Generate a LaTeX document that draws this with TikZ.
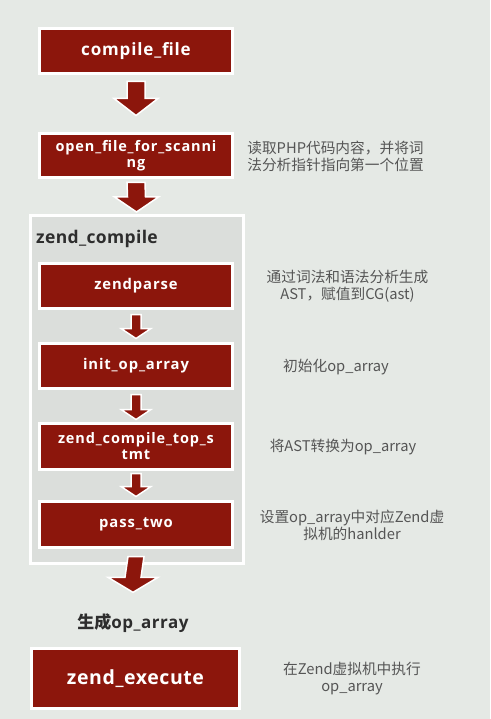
\documentclass[tikz,border=0pt]{standalone}
\usepackage{fontspec}
\setmainfont{Open Sans}
\newfontfamily\cjk{Noto Sans CJK SC}
\usetikzlibrary{calc}
\definecolor{bg}{RGB}{229,233,229}
\definecolor{boxred}{RGB}{140,22,12}
\definecolor{panelgray}{RGB}{219,222,219}
\definecolor{notegray}{RGB}{85,85,85}
\definecolor{darktext}{RGB}{45,45,45}
\newcommand\boxfont[3]{\bfseries\fontsize{#1}{#2}\selectfont\addfontfeature{LetterSpace=#3}}
\tikzset{
  stepbox/.style={draw=white, line width=3pt, fill=boxred, text=white,
    font=\boxfont{14.8}{16}{6}, minimum width=193pt,
    minimum height=45pt, inner sep=0pt, align=center},
  panelbox/.style={draw=white, line width=3pt, fill=panelgray, inner sep=0pt},
  notetext/.style={text=notegray, font=\cjk\fontsize{14.7}{17}\selectfont, align=center, inner sep=0pt},
  headtext/.style={text=darktext, font=\boxfont{17.5}{20}{2}, inner sep=0pt},
  blockarrowstyle/.style={fill=boxred, draw=white, line width=1.5pt, line join=miter},
}
% #1 start, #2 tip, #3 shaft half width, #4 head half width, #5 head length
\newcommand\blockarrow[5]{%
  \path[blockarrowstyle] ($(#1)+(-#3,0)$) -- ($(#2)+(-#3,#5)$) -- ($(#2)+(-#4,#5)$)
    -- (#2) -- ($(#2)+(#4,#5)$) -- ($(#2)+(#3,#5)$) -- ($(#1)+(#3,0)$) -- cycle;}
\begin{document}
\begin{tikzpicture}[x=1pt,y=1pt]
\fill[bg] (0,0) rectangle (490,-719);
\useasboundingbox (0,0) rectangle (490,-719);

% container
\node[panelbox, minimum width=213pt, minimum height=347pt] (zc) at (136.5,-389.5) {};
\node[headtext, anchor=west] (zclabel) at (36,-239) {zend\_compile};

% steps
\node[stepbox, font=\boxfont{17}{20}{5}] (cf) at (136,-51) {compile\_file};
\node[stepbox, minimum height=44pt, font=\boxfont{14.5}{16}{6}] (of) at (136,-155.5) {open\_file\_for\_scanni\\ng};
\node[stepbox] (zp) at (136,-286) {zendparse};
\node[stepbox] (ia) at (136,-366) {init\_op\_array};
\node[stepbox, minimum height=46pt, font=\boxfont{14.5}{16}{6}] (ts) at (136,-446.5) {zend\_compile\_top\_s\\tmt};
\node[stepbox, minimum height=46pt] (pt) at (136,-524.5) {pass\_two};
\node[headtext, font=\boxfont{17}{20}{3}] (gen) at (133,-623) {{\cjk\bfseries 生成}op\_array};
\node[stepbox, minimum width=208pt, minimum height=60pt, font=\boxfont{19.5}{22}{3}] (ze) at (135.5,-678.5) {zend\_execute};

% arrows
\coordinate (a1s) at ($(cf.south)+(0,-6.5)$);
\coordinate (a1t) at ($(of.north)+(0,16.5)$);
\blockarrow{a1s}{a1t}{9}{22}{17}
\coordinate (a2s) at ($(of.south)+(0,-3.5)$);
\coordinate (a2t) at ($(zc.north)+(0,2.5)$);
\blockarrow{a2s}{a2t}{9}{22}{15}
\coordinate (a3s) at ($(zp.south)+(0,-4.5)$);
\coordinate (a3t) at ($(ia.north)+(0,3.5)$);
\blockarrow{a3s}{a3t}{5}{15}{10}
\coordinate (a4s) at ($(ia.south)+(0,-4.5)$);
\coordinate (a4t) at ($(ts.north)+(0,2.5)$);
\blockarrow{a4s}{a4t}{5}{15}{10}
\coordinate (a5s) at ($(ts.south)+(0,-2.5)$);
\coordinate (a5t) at ($(pt.north)+(0,3.5)$);
\blockarrow{a5s}{a5t}{5}{15}{10}
\coordinate (a6s) at ($(pt.south)+(0,-7.5)$);
\coordinate (a6t) at ($(gen.north)+(0,21)$);
\blockarrow{a6s}{a6t}{8}{25}{15}

% notes
\node[notetext] (n1) at (335.5,-156) {读取PHP代码内容，并将词\\法分析指针指向第一个位置};
\node[notetext] (n2) at (347.5,-286.5) {通过词法和语法分析生成\\AST，赋值到CG(ast)};
\node[notetext] (n3) at (336,-367) {初始化op\_array};
\node[notetext] (n4) at (343,-447) {将AST转换为op\_array};
\node[notetext] (n5) at (352,-525) {设置op\_array中对应Zend虚\\拟机的hanlder};
\node[notetext] (n6) at (352,-679) {在Zend虚拟机中执行\\op\_array};
\end{tikzpicture}
\end{document}
